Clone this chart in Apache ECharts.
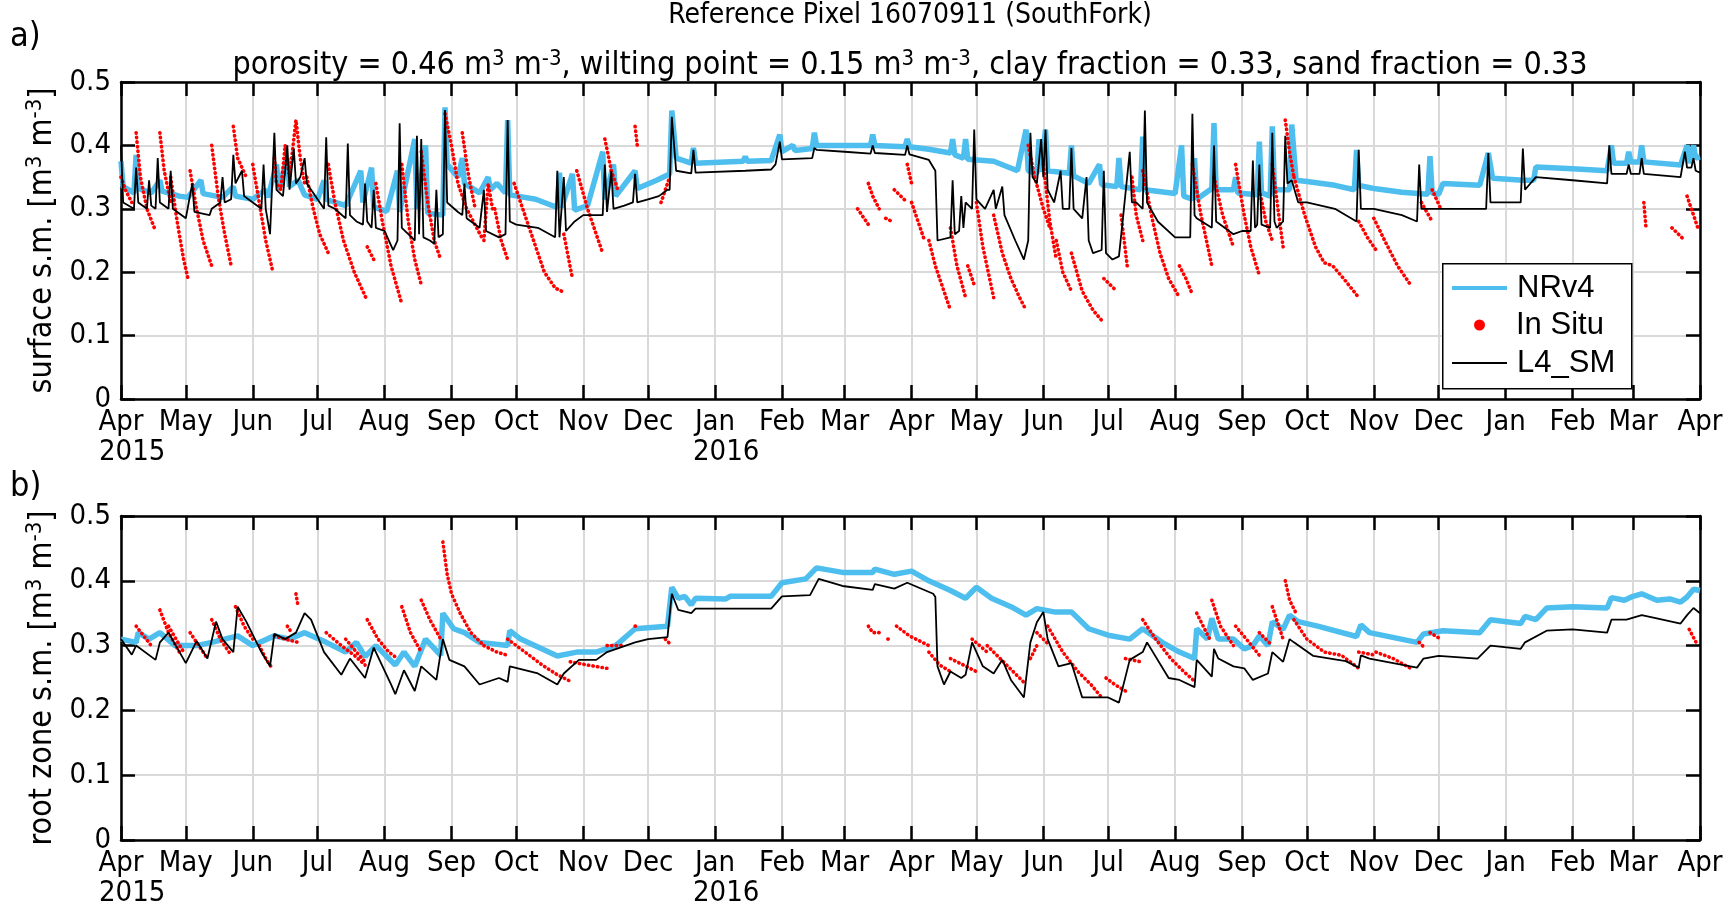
<!DOCTYPE html>
<html>
<head>
<meta charset="utf-8">
<script src="https://cdn.jsdelivr.net/npm/echarts@6/dist/echarts.min.js"></script>
<style>html,body{margin:0;padding:0;background:#fff}#c{width:1730px;height:914px}</style>
</head>
<body>
<div id="c"></div>
<script>
// ---------------- DATA ----------------
const tickDates = ['2015-04-01','2015-05-01','2015-06-01','2015-07-01','2015-08-01','2015-09-01','2015-10-01','2015-11-01','2015-12-01','2016-01-01','2016-02-01','2016-03-01','2016-04-01','2016-05-01','2016-06-01','2016-07-01','2016-08-01','2016-09-01','2016-10-01','2016-11-01','2016-12-01','2017-01-01','2017-02-01','2017-03-01','2017-04-01'];
const tickMonths = ['Apr','May','Jun','Jul','Aug','Sep','Oct','Nov','Dec','Jan','Feb','Mar','Apr','May','Jun','Jul','Aug','Sep','Oct','Nov','Dec','Jan','Feb','Mar','Apr'];
const tickYears = ['2015','','','','','','','','','2016','','','','','','','','','','','','','','',''];
const yTicks = [0, 0.1, 0.2, 0.3, 0.4, 0.5];

const surfNR = [['2015-04-01',0.375],['2015-04-02',0.335],['2015-04-07',0.325],['2015-04-08',0.385],['2015-04-09',0.332],['2015-04-15',0.325],['2015-04-19',0.345],['2015-04-20',0.328],['2015-04-28',0.32],['2015-05-02',0.318],['2015-05-08',0.345],['2015-05-09',0.324],['2015-05-18',0.318],['2015-05-23',0.335],['2015-05-24',0.32],['2015-06-01',0.315],['2015-06-07',0.33],['2015-06-08',0.318],['2015-06-12',0.37],['2015-06-13',0.33],['2015-06-17',0.38],['2015-06-18',0.335],['2015-06-22',0.345],['2015-06-25',0.322],['2015-07-01',0.315],['2015-07-04',0.345],['2015-07-05',0.315],['2015-07-14',0.305],['2015-07-21',0.36],['2015-07-22',0.31],['2015-07-26',0.365],['2015-07-27',0.303],['2015-08-02',0.296],['2015-08-07',0.36],['2015-08-08',0.295],['2015-08-15',0.41],['2015-08-16',0.30],['2015-08-20',0.40],['2015-08-21',0.293],['2015-08-28',0.29],['2015-08-29',0.46],['2015-08-30',0.37],['2015-09-04',0.35],['2015-09-06',0.38],['2015-09-07',0.34],['2015-09-14',0.325],['2015-09-18',0.35],['2015-09-19',0.33],['2015-09-22',0.34],['2015-09-26',0.325],['2015-09-27',0.44],['2015-09-28',0.322],['2015-10-10',0.315],['2015-10-20',0.302],['2015-10-21',0.357],['2015-10-22',0.302],['2015-10-27',0.355],['2015-10-28',0.298],['2015-11-03',0.305],['2015-11-10',0.39],['2015-11-11',0.315],['2015-11-15',0.37],['2015-11-16',0.32],['2015-11-25',0.36],['2015-11-26',0.332],['2015-12-05',0.345],['2015-12-11',0.355],['2015-12-12',0.455],['2015-12-14',0.38],['2015-12-21',0.372],['2015-12-22',0.396],['2015-12-23',0.372],['2016-01-14',0.375],['2016-01-15',0.382],['2016-01-16',0.375],['2016-01-27',0.376],['2016-01-31',0.417],['2016-02-01',0.39],['2016-02-06',0.40],['2016-02-07',0.392],['2016-02-15',0.395],['2016-02-16',0.42],['2016-02-17',0.40],['2016-03-13',0.40],['2016-03-14',0.417],['2016-03-15',0.40],['2016-03-29',0.398],['2016-03-30',0.41],['2016-03-31',0.398],['2016-04-09',0.394],['2016-04-19',0.388],['2016-04-20',0.41],['2016-04-21',0.385],['2016-04-25',0.38],['2016-04-26',0.41],['2016-04-27',0.378],['2016-05-09',0.375],['2016-05-20',0.36],['2016-05-24',0.425],['2016-05-25',0.36],['2016-05-29',0.356],['2016-05-30',0.41],['2016-05-31',0.358],['2016-06-02',0.425],['2016-06-03',0.36],['2016-06-13',0.356],['2016-06-14',0.40],['2016-06-15',0.352],['2016-06-22',0.34],['2016-06-27',0.37],['2016-06-28',0.338],['2016-07-05',0.335],['2016-07-06',0.38],['2016-07-07',0.335],['2016-07-16',0.33],['2016-07-17',0.414],['2016-07-18',0.33],['2016-08-01',0.324],['2016-08-04',0.40],['2016-08-05',0.32],['2016-08-09',0.315],['2016-08-10',0.38],['2016-08-11',0.315],['2016-08-18',0.332],['2016-08-19',0.435],['2016-08-20',0.33],['2016-08-28',0.33],['2016-08-29',0.35],['2016-08-30',0.325],['2016-09-08',0.322],['2016-09-09',0.406],['2016-09-10',0.325],['2016-09-14',0.32],['2016-09-15',0.43],['2016-09-16',0.33],['2016-09-23',0.33],['2016-09-24',0.433],['2016-09-26',0.345],['2016-10-01',0.343],['2016-10-14',0.337],['2016-10-23',0.33],['2016-10-24',0.393],['2016-10-25',0.337],['2016-11-01',0.332],['2016-11-14',0.326],['2016-11-26',0.323],['2016-11-27',0.383],['2016-11-28',0.325],['2016-12-01',0.323],['2016-12-03',0.34],['2016-12-20',0.337],['2016-12-24',0.388],['2016-12-26',0.348],['2017-01-09',0.345],['2017-01-14',0.345],['2017-01-15',0.366],['2017-02-01',0.363],['2017-02-17',0.36],['2017-02-19',0.40],['2017-02-20',0.372],['2017-02-26',0.372],['2017-02-27',0.39],['2017-02-28',0.374],['2017-03-04',0.374],['2017-03-05',0.40],['2017-03-06',0.374],['2017-03-23',0.369],['2017-03-26',0.40],['2017-03-27',0.372],['2017-03-29',0.40],['2017-03-30',0.38],['2017-04-01',0.382]];

const surfL4 = [['2015-04-01',0.40],['2015-04-02',0.31],['2015-04-07',0.30],['2015-04-08',0.365],['2015-04-09',0.31],['2015-04-13',0.30],['2015-04-14',0.345],['2015-04-15',0.305],['2015-04-17',0.30],['2015-04-18',0.38],['2015-04-19',0.31],['2015-04-23',0.30],['2015-04-24',0.36],['2015-04-25',0.30],['2015-05-01',0.285],['2015-05-04',0.34],['2015-05-05',0.295],['2015-05-12',0.29],['2015-05-13',0.30],['2015-05-17',0.31],['2015-05-18',0.35],['2015-05-19',0.31],['2015-05-22',0.315],['2015-05-23',0.385],['2015-05-24',0.34],['2015-05-27',0.36],['2015-05-28',0.32],['2015-06-01',0.31],['2015-06-05',0.30],['2015-06-06',0.37],['2015-06-07',0.30],['2015-06-09',0.26],['2015-06-11',0.42],['2015-06-12',0.33],['2015-06-15',0.32],['2015-06-17',0.40],['2015-06-18',0.33],['2015-06-20',0.395],['2015-06-21',0.34],['2015-06-23',0.35],['2015-06-25',0.38],['2015-06-26',0.34],['2015-06-28',0.33],['2015-07-04',0.30],['2015-07-05',0.413],['2015-07-06',0.305],['2015-07-09',0.30],['2015-07-14',0.285],['2015-07-15',0.403],['2015-07-16',0.29],['2015-07-19',0.28],['2015-07-22',0.275],['2015-07-23',0.34],['2015-07-24',0.28],['2015-07-26',0.27],['2015-07-27',0.33],['2015-07-28',0.27],['2015-08-01',0.265],['2015-08-05',0.235],['2015-08-07',0.25],['2015-08-08',0.435],['2015-08-09',0.27],['2015-08-12',0.26],['2015-08-15',0.25],['2015-08-16',0.415],['2015-08-17',0.26],['2015-08-18',0.41],['2015-08-19',0.255],['2015-08-22',0.25],['2015-08-24',0.245],['2015-08-25',0.33],['2015-08-26',0.255],['2015-08-28',0.26],['2015-08-29',0.456],['2015-08-30',0.31],['2015-09-04',0.295],['2015-09-06',0.29],['2015-09-07',0.34],['2015-09-08',0.285],['2015-09-14',0.27],['2015-09-16',0.33],['2015-09-17',0.265],['2015-09-23',0.255],['2015-09-26',0.26],['2015-09-27',0.44],['2015-09-28',0.28],['2015-10-01',0.275],['2015-10-11',0.27],['2015-10-19',0.255],['2015-10-20',0.36],['2015-10-21',0.255],['2015-10-23',0.35],['2015-10-24',0.265],['2015-10-28',0.28],['2015-11-01',0.29],['2015-11-10',0.29],['2015-11-11',0.37],['2015-11-12',0.295],['2015-11-14',0.36],['2015-11-15',0.30],['2015-11-20',0.305],['2015-11-24',0.31],['2015-11-25',0.355],['2015-11-26',0.31],['2015-12-01',0.315],['2015-12-06',0.32],['2015-12-10',0.33],['2015-12-11',0.33],['2015-12-12',0.445],['2015-12-14',0.36],['2015-12-21',0.356],['2015-12-22',0.393],['2015-12-23',0.357],['2016-01-15',0.36],['2016-01-27',0.362],['2016-01-29',0.37],['2016-01-31',0.406],['2016-02-01',0.378],['2016-02-15',0.38],['2016-02-16',0.396],['2016-02-17',0.393],['2016-03-01',0.39],['2016-03-13',0.387],['2016-03-14',0.40],['2016-03-15',0.388],['2016-03-29',0.385],['2016-03-30',0.40],['2016-03-31',0.386],['2016-04-09',0.377],['2016-04-12',0.36],['2016-04-13',0.25],['2016-04-19',0.255],['2016-04-20',0.345],['2016-04-21',0.26],['2016-04-23',0.265],['2016-04-24',0.32],['2016-04-25',0.27],['2016-04-26',0.31],['2016-04-29',0.30],['2016-04-30',0.425],['2016-05-01',0.315],['2016-05-05',0.30],['2016-05-09',0.33],['2016-05-10',0.30],['2016-05-13',0.335],['2016-05-14',0.29],['2016-05-19',0.25],['2016-05-23',0.22],['2016-05-25',0.25],['2016-05-26',0.42],['2016-05-27',0.35],['2016-05-29',0.34],['2016-05-31',0.41],['2016-06-01',0.35],['2016-06-02',0.425],['2016-06-03',0.33],['2016-06-06',0.31],['2016-06-09',0.36],['2016-06-10',0.30],['2016-06-13',0.30],['2016-06-14',0.396],['2016-06-15',0.30],['2016-06-19',0.285],['2016-06-21',0.35],['2016-06-22',0.25],['2016-06-24',0.23],['2016-06-28',0.235],['2016-06-29',0.36],['2016-06-30',0.23],['2016-07-03',0.22],['2016-07-06',0.225],['2016-07-08',0.29],['2016-07-11',0.39],['2016-07-12',0.31],['2016-07-14',0.31],['2016-07-17',0.30],['2016-07-18',0.455],['2016-07-19',0.31],['2016-07-24',0.28],['2016-08-01',0.255],['2016-08-08',0.255],['2016-08-09',0.45],['2016-08-10',0.29],['2016-08-11',0.285],['2016-08-18',0.27],['2016-08-19',0.40],['2016-08-20',0.28],['2016-08-28',0.26],['2016-09-01',0.265],['2016-09-05',0.265],['2016-09-06',0.376],['2016-09-07',0.27],['2016-09-08',0.275],['2016-09-09',0.37],['2016-09-10',0.275],['2016-09-14',0.27],['2016-09-15',0.42],['2016-09-16',0.28],['2016-09-17',0.27],['2016-09-20',0.28],['2016-09-21',0.415],['2016-09-22',0.34],['2016-09-24',0.345],['2016-09-27',0.31],['2016-10-01',0.31],['2016-10-14',0.30],['2016-10-24',0.28],['2016-10-25',0.393],['2016-10-26',0.30],['2016-11-01',0.30],['2016-11-14',0.29],['2016-11-21',0.28],['2016-11-22',0.37],['2016-11-23',0.30],['2016-12-01',0.30],['2016-12-20',0.30],['2016-12-23',0.30],['2016-12-24',0.388],['2016-12-25',0.31],['2017-01-08',0.31],['2017-01-09',0.395],['2017-01-10',0.33],['2017-01-15',0.35],['2017-02-01',0.345],['2017-02-17',0.34],['2017-02-18',0.40],['2017-02-19',0.355],['2017-02-26',0.355],['2017-02-27',0.37],['2017-02-28',0.355],['2017-03-04',0.355],['2017-03-05',0.38],['2017-03-06',0.355],['2017-03-23',0.35],['2017-03-25',0.39],['2017-03-26',0.365],['2017-03-28',0.365],['2017-03-29',0.38],['2017-03-30',0.36],['2017-04-01',0.357]];

const surfInSitu = [
[['2015-04-01',0.35],['2015-04-03',0.33],['2015-04-06',0.31]],
[['2015-04-08',0.42],['2015-04-10',0.35],['2015-04-13',0.30],['2015-04-17',0.265]],
[['2015-04-19',0.42],['2015-04-21',0.36],['2015-04-24',0.31]],
[['2015-04-24',0.35],['2015-04-27',0.28],['2015-04-30',0.22],['2015-05-02',0.19]],
[['2015-05-03',0.36],['2015-05-06',0.30],['2015-05-09',0.25],['2015-05-13',0.21]],
[['2015-05-13',0.40],['2015-05-16',0.32],['2015-05-19',0.26],['2015-05-22',0.21]],
[['2015-05-23',0.43],['2015-05-25',0.38],['2015-05-29',0.35]],
[['2015-06-01',0.37],['2015-06-04',0.31],['2015-06-07',0.25],['2015-06-10',0.205]],
[['2015-06-11',0.38],['2015-06-12',0.34],['2015-06-14',0.33],['2015-06-16',0.40],['2015-06-18',0.35],['2015-06-20',0.41],['2015-06-21',0.44],['2015-06-23',0.38],['2015-06-25',0.34]],
[['2015-06-26',0.35],['2015-06-29',0.30],['2015-07-02',0.26],['2015-07-06',0.23]],
[['2015-07-06',0.37],['2015-07-09',0.31],['2015-07-13',0.25],['2015-07-18',0.20],['2015-07-24',0.155]],
[['2015-07-24',0.24],['2015-07-27',0.22]],
[['2015-07-28',0.34],['2015-07-31',0.28],['2015-08-04',0.21],['2015-08-09',0.15]],
[['2015-08-09',0.37],['2015-08-12',0.28],['2015-08-15',0.22],['2015-08-18',0.18]],
[['2015-08-18',0.39],['2015-08-21',0.31],['2015-08-24',0.25],['2015-08-27',0.22]],
[['2015-08-29',0.45],['2015-09-01',0.40],['2015-09-04',0.34],['2015-09-08',0.30],['2015-09-15',0.255]],
[['2015-09-06',0.42],['2015-09-09',0.35],['2015-09-12',0.30]],
[['2015-09-16',0.25],['2015-09-18',0.34],['2015-09-20',0.30]],
[['2015-09-21',0.30],['2015-09-24',0.25],['2015-09-27',0.22]],
[['2015-09-30',0.34],['2015-10-04',0.30],['2015-10-09',0.25],['2015-10-14',0.20],['2015-10-19',0.175],['2015-10-22',0.17]],
[['2015-10-23',0.26],['2015-10-27',0.19]],
[['2015-10-29',0.36],['2015-11-03',0.30],['2015-11-10',0.23]],
[['2015-11-11',0.41],['2015-11-14',0.36],['2015-11-17',0.33]],
[['2015-11-25',0.43],['2015-11-26',0.40]],
[['2015-12-07',0.31],['2015-12-09',0.33],['2015-12-11',0.35]],
[['2016-03-07',0.30],['2016-03-10',0.285],['2016-03-12',0.275]],
[['2016-03-12',0.34],['2016-03-14',0.32],['2016-03-17',0.30]],
[['2016-03-20',0.285],['2016-03-23',0.28]],
[['2016-03-24',0.33],['2016-03-27',0.32],['2016-03-30',0.31]],
[['2016-03-30',0.37],['2016-04-01',0.34]],
[['2016-04-01',0.31],['2016-04-04',0.28],['2016-04-07',0.25]],
[['2016-04-09',0.25],['2016-04-12',0.21],['2016-04-15',0.18],['2016-04-19',0.14]],
[['2016-04-19',0.27],['2016-04-22',0.21],['2016-04-26',0.16]],
[['2016-04-27',0.21],['2016-04-30',0.18]],
[['2016-05-01',0.31],['2016-05-04',0.24],['2016-05-09',0.16]],
[['2016-05-09',0.29],['2016-05-13',0.23],['2016-05-17',0.19],['2016-05-21',0.16],['2016-05-24',0.14]],
[['2016-05-25',0.40],['2016-05-28',0.35],['2016-06-01',0.30],['2016-06-04',0.27]],
[['2016-06-01',0.37],['2016-06-04',0.28],['2016-06-07',0.22]],
[['2016-06-07',0.25],['2016-06-10',0.20],['2016-06-14',0.17]],
[['2016-06-14',0.23],['2016-06-19',0.17],['2016-06-24',0.14],['2016-06-29',0.12]],
[['2016-06-29',0.19],['2016-07-02',0.18],['2016-07-05',0.17]],
[['2016-07-07',0.29],['2016-07-10',0.205]],
[['2016-07-12',0.35],['2016-07-14',0.29],['2016-07-17',0.25]],
[['2016-07-17',0.36],['2016-07-21',0.29],['2016-07-25',0.23],['2016-07-29',0.19],['2016-08-03',0.16]],
[['2016-08-03',0.21],['2016-08-06',0.19],['2016-08-09',0.165]],
[['2016-08-09',0.37],['2016-08-13',0.29],['2016-08-18',0.21]],
[['2016-08-19',0.35],['2016-08-23',0.29],['2016-08-28',0.24]],
[['2016-08-29',0.37],['2016-09-02',0.29],['2016-09-05',0.24],['2016-09-09',0.195]],
[['2016-09-09',0.33],['2016-09-12',0.28],['2016-09-15',0.25]],
[['2016-09-15',0.37],['2016-09-18',0.29],['2016-09-20',0.24]],
[['2016-09-21',0.44],['2016-09-23',0.39],['2016-09-25',0.35]],
[['2016-09-25',0.35],['2016-09-30',0.29],['2016-10-05',0.24],['2016-10-09',0.215],['2016-10-13',0.21],['2016-10-18',0.19],['2016-10-25',0.16]],
[['2016-10-25',0.28],['2016-10-29',0.255],['2016-11-02',0.235]],
[['2016-11-01',0.285],['2016-11-06',0.25],['2016-11-12',0.21],['2016-11-18',0.18]],
[['2016-11-23',0.31],['2016-11-28',0.28]],
[['2016-11-28',0.33],['2016-12-02',0.30]],
[['2017-03-06',0.31],['2017-03-07',0.27]],
[['2017-03-19',0.27],['2017-03-25',0.25]],
[['2017-03-26',0.32],['2017-03-31',0.27]]
];

const rootNR = [['2015-04-01',0.31],['2015-04-08',0.305],['2015-04-09',0.32],['2015-04-14',0.31],['2015-04-19',0.32],['2015-04-26',0.30],['2015-05-06',0.30],['2015-05-13',0.305],['2015-05-25',0.315],['2015-06-01',0.30],['2015-06-11',0.315],['2015-06-18',0.31],['2015-06-25',0.32],['2015-07-05',0.305],['2015-07-14',0.29],['2015-07-19',0.305],['2015-07-23',0.283],['2015-07-28',0.30],['2015-08-06',0.27],['2015-08-10',0.29],['2015-08-15',0.268],['2015-08-20',0.31],['2015-08-27',0.285],['2015-08-28',0.35],['2015-09-02',0.326],['2015-09-07',0.32],['2015-09-14',0.305],['2015-09-27',0.30],['2015-09-28',0.323],['2015-10-03',0.31],['2015-10-20',0.284],['2015-10-29',0.29],['2015-11-07',0.29],['2015-11-16',0.30],['2015-11-25',0.326],['2015-12-10',0.33],['2015-12-12',0.39],['2015-12-15',0.373],['2015-12-18',0.376],['2015-12-21',0.363],['2015-12-23',0.373],['2016-01-06',0.372],['2016-01-08',0.376],['2016-01-27',0.376],['2016-02-01',0.397],['2016-02-12',0.403],['2016-02-17',0.42],['2016-02-29',0.413],['2016-03-14',0.413],['2016-03-15',0.418],['2016-03-24',0.41],['2016-04-01',0.415],['2016-04-09',0.40],['2016-04-19',0.385],['2016-04-26',0.373],['2016-05-01',0.39],['2016-05-08',0.373],['2016-05-17',0.36],['2016-05-24',0.347],['2016-05-29',0.357],['2016-06-06',0.352],['2016-06-14',0.352],['2016-06-22',0.326],['2016-07-01',0.316],['2016-07-11',0.31],['2016-07-17',0.326],['2016-07-26',0.305],['2016-08-03',0.29],['2016-08-10',0.28],['2016-08-11',0.326],['2016-08-16',0.31],['2016-08-18',0.342],['2016-08-21',0.31],['2016-08-28',0.31],['2016-09-02',0.295],['2016-09-06',0.30],['2016-09-09',0.315],['2016-09-13',0.30],['2016-09-15',0.337],['2016-09-20',0.325],['2016-09-23',0.347],['2016-09-27',0.337],['2016-10-06',0.33],['2016-10-24',0.314],['2016-10-26',0.332],['2016-10-30',0.32],['2016-11-21',0.305],['2016-11-24',0.318],['2016-12-03',0.323],['2016-12-20',0.32],['2016-12-25',0.34],['2017-01-08',0.334],['2017-01-10',0.345],['2017-01-15',0.34],['2017-01-20',0.358],['2017-02-01',0.36],['2017-02-17',0.358],['2017-02-19',0.374],['2017-02-25',0.37],['2017-03-01',0.376],['2017-03-05',0.38],['2017-03-12',0.37],['2017-03-18',0.372],['2017-03-23',0.367],['2017-03-26',0.375],['2017-03-29',0.387],['2017-04-01',0.385]];

const rootL4 = [['2015-04-01',0.31],['2015-04-06',0.286],['2015-04-08',0.30],['2015-04-17',0.278],['2015-04-19',0.305],['2015-04-23',0.32],['2015-05-01',0.273],['2015-05-06',0.307],['2015-05-11',0.28],['2015-05-15',0.337],['2015-05-18',0.31],['2015-05-23',0.29],['2015-05-25',0.36],['2015-05-29',0.337],['2015-06-05',0.29],['2015-06-09',0.268],['2015-06-11',0.318],['2015-06-16',0.31],['2015-06-21',0.32],['2015-06-25',0.35],['2015-06-28',0.34],['2015-07-04',0.29],['2015-07-12',0.255],['2015-07-16',0.28],['2015-07-23',0.25],['2015-07-27',0.297],['2015-08-04',0.24],['2015-08-06',0.225],['2015-08-10',0.262],['2015-08-15',0.23],['2015-08-18',0.268],['2015-08-25',0.247],['2015-08-28',0.31],['2015-08-31',0.278],['2015-09-07',0.268],['2015-09-14',0.24],['2015-09-23',0.25],['2015-09-27',0.244],['2015-09-28',0.268],['2015-10-11',0.257],['2015-10-20',0.24],['2015-10-23',0.257],['2015-10-30',0.278],['2015-11-07',0.278],['2015-11-12',0.29],['2015-11-25',0.305],['2015-12-01',0.31],['2015-12-10',0.313],['2015-12-12',0.38],['2015-12-15',0.355],['2015-12-21',0.35],['2015-12-23',0.357],['2016-01-27',0.357],['2016-02-01',0.376],['2016-02-14',0.378],['2016-02-18',0.403],['2016-02-29',0.392],['2016-03-14',0.386],['2016-03-15',0.395],['2016-03-24',0.388],['2016-03-30',0.397],['2016-04-11',0.38],['2016-04-12',0.375],['2016-04-13',0.268],['2016-04-16',0.24],['2016-04-19',0.26],['2016-04-24',0.25],['2016-04-26',0.255],['2016-04-29',0.305],['2016-05-04',0.268],['2016-05-09',0.257],['2016-05-13',0.278],['2016-05-17',0.247],['2016-05-23',0.22],['2016-05-26',0.305],['2016-05-29',0.336],['2016-06-01',0.352],['2016-06-03',0.31],['2016-06-08',0.268],['2016-06-14',0.273],['2016-06-19',0.22],['2016-07-01',0.22],['2016-07-06',0.212],['2016-07-11',0.278],['2016-07-17',0.29],['2016-07-19',0.305],['2016-07-29',0.25],['2016-08-03',0.247],['2016-08-10',0.236],['2016-08-11',0.278],['2016-08-18',0.252],['2016-08-19',0.295],['2016-08-21',0.28],['2016-08-28',0.268],['2016-09-02',0.265],['2016-09-06',0.247],['2016-09-13',0.257],['2016-09-15',0.29],['2016-09-20',0.275],['2016-09-23',0.31],['2016-09-25',0.305],['2016-10-04',0.284],['2016-10-19',0.276],['2016-10-25',0.266],['2016-10-26',0.285],['2016-10-30',0.28],['2016-11-21',0.266],['2016-11-24',0.28],['2016-12-01',0.284],['2016-12-19',0.28],['2016-12-25',0.30],['2017-01-08',0.295],['2017-01-10',0.305],['2017-01-20',0.323],['2017-02-01',0.325],['2017-02-17',0.32],['2017-02-19',0.34],['2017-02-26',0.34],['2017-03-05',0.347],['2017-03-12',0.342],['2017-03-23',0.334],['2017-03-26',0.347],['2017-03-29',0.358],['2017-04-01',0.35]];

const rootInSitu = [
[['2015-04-08',0.33],['2015-04-15',0.30]],
[['2015-04-19',0.355],['2015-04-23',0.32],['2015-04-28',0.29]],
[['2015-04-23',0.33],['2015-04-30',0.29]],
[['2015-05-03',0.32],['2015-05-07',0.30],['2015-05-11',0.28]],
[['2015-05-13',0.34],['2015-05-17',0.31],['2015-05-22',0.285]],
[['2015-05-24',0.36],['2015-05-28',0.33],['2015-06-01',0.31]],
[['2015-06-04',0.30],['2015-06-07',0.28],['2015-06-10',0.265]],
[['2015-06-11',0.315],['2015-06-16',0.31],['2015-06-22',0.305]],
[['2015-06-17',0.33],['2015-06-19',0.32]],
[['2015-06-21',0.38],['2015-06-22',0.36]],
[['2015-07-05',0.32],['2015-07-12',0.30],['2015-07-18',0.285],['2015-07-23',0.27]],
[['2015-07-14',0.31],['2015-07-19',0.29],['2015-07-23',0.275]],
[['2015-07-24',0.34],['2015-07-29',0.31],['2015-08-03',0.29],['2015-08-07',0.28]],
[['2015-08-09',0.36],['2015-08-13',0.32],['2015-08-18',0.29]],
[['2015-08-18',0.37],['2015-08-22',0.34],['2015-08-27',0.31]],
[['2015-08-28',0.46],['2015-08-30',0.41],['2015-09-01',0.38],['2015-09-05',0.35],['2015-09-10',0.32],['2015-09-16',0.30]],
[['2015-09-16',0.30],['2015-09-22',0.29],['2015-09-27',0.285]],
[['2015-09-27',0.31],['2015-10-05',0.29],['2015-10-13',0.27],['2015-10-20',0.255],['2015-10-26',0.245]],
[['2015-10-26',0.275],['2015-11-03',0.27],['2015-11-12',0.265]],
[['2015-11-12',0.30],['2015-11-19',0.30]],
[['2015-11-25',0.33],['2015-11-26',0.33]],
[['2015-12-09',0.31],['2015-12-12',0.30]],
[['2016-03-12',0.33],['2016-03-14',0.32],['2016-03-17',0.32]],
[['2016-03-21',0.31],['2016-03-22',0.31]],
[['2016-03-25',0.33],['2016-03-31',0.315],['2016-04-09',0.30]],
[['2016-04-09',0.29],['2016-04-14',0.27],['2016-04-19',0.26]],
[['2016-04-19',0.28],['2016-04-25',0.27],['2016-05-01',0.26]],
[['2016-04-29',0.31],['2016-05-06',0.29]],
[['2016-05-06',0.30],['2016-05-12',0.28],['2016-05-18',0.26],['2016-05-24',0.24]],
[['2016-05-26',0.28],['2016-05-29',0.30]],
[['2016-05-29',0.32],['2016-06-04',0.30]],
[['2016-06-03',0.33],['2016-06-10',0.29],['2016-06-17',0.26],['2016-06-23',0.24],['2016-06-28',0.22]],
[['2016-06-30',0.25],['2016-07-04',0.24],['2016-07-09',0.23]],
[['2016-07-09',0.28],['2016-07-16',0.275]],
[['2016-07-17',0.34],['2016-07-23',0.31],['2016-07-30',0.28],['2016-08-05',0.26],['2016-08-10',0.245]],
[['2016-08-11',0.35],['2016-08-14',0.33],['2016-08-17',0.31]],
[['2016-08-18',0.37],['2016-08-22',0.33],['2016-08-28',0.30]],
[['2016-08-29',0.33],['2016-09-03',0.31],['2016-09-09',0.285]],
[['2016-09-09',0.32],['2016-09-15',0.30]],
[['2016-09-15',0.36],['2016-09-18',0.33],['2016-09-20',0.31]],
[['2016-09-21',0.40],['2016-09-23',0.37],['2016-09-26',0.35]],
[['2016-09-25',0.34],['2016-10-01',0.31],['2016-10-09',0.29],['2016-10-17',0.285],['2016-10-25',0.265]],
[['2016-10-25',0.29],['2016-11-02',0.285]],
[['2016-11-02',0.29],['2016-11-10',0.28],['2016-11-18',0.265]],
[['2016-11-22',0.305],['2016-11-25',0.295]],
[['2016-11-27',0.32],['2016-12-02',0.31]],
[['2017-03-27',0.325],['2017-03-31',0.30]]
];

// ---------------- CHART ----------------
const FONT = "'Liberation Sans Narrow','DejaVu Sans Condensed','Arial Narrow',sans-serif";
const LFONT = "'Liberation Sans',Arial,sans-serif";
const BLUE = '#4DBEEE', RED = '#FF0000', BLACK = '#000000';
const toT = d => +echarts.time.parse(d);
const tickTimes = tickDates.map(toT);
const yearTimes = tickTimes.filter((t, i) => tickYears[i] !== '');
const tMin = tickTimes[0], tMax = tickTimes[tickTimes.length - 1];

function lineData(arr) { return arr.map(p => [toT(p[0]), p[1]]); }
function streaksToData(streaks) {
  const out = [];
  streaks.forEach((s, i) => {
    if (i > 0) out.push([toT(s[0][0]), '-']);
    s.forEach(p => out.push([toT(p[0]), p[1]]));
  });
  return out;
}

function supRich(size) {
  const ss = Math.round(size * 0.68);
  return {
    t: {fontFamily: FONT, fontSize: size, fontWeight: 'normal', color: '#000', lineHeight: size + 4},
    s: {fontFamily: FONT, fontSize: ss, fontWeight: 'normal', color: '#000', lineHeight: ss, verticalAlign: 'top'}
  };
}

const AX = {color: '#000', width: 2.5};
const GRID = {color: '#d9d9d9', width: 2};

function xBottom(g) {
  return {
    type: 'value', gridIndex: g, position: 'bottom', min: tMin, max: tMax,
    axisLine: {show: true, onZero: false, lineStyle: AX},
    axisTick: {show: true, inside: true, length: 14, customValues: tickTimes, lineStyle: AX},
    axisLabel: {
      show: true, customValues: tickTimes, margin: 9, color: '#000', fontFamily: FONT, fontSize: 29,
      hideOverlap: false, showMinLabel: true, showMaxLabel: true,
      formatter: v => { const i = tickTimes.indexOf(v); return i < 0 ? '' : tickMonths[i]; }
    },
    splitLine: {show: true, lineStyle: GRID}
  };
}
function xYears(g) {
  return {
    type: 'value', gridIndex: g, position: 'bottom', min: tMin, max: tMax,
    axisLine: {show: false, onZero: false}, axisTick: {show: false},
    axisLabel: {
      show: true, customValues: yearTimes, margin: 39, align: 'right', showMinLabel: true, showMaxLabel: true,
      formatter: v => { const i = tickTimes.indexOf(v); return i < 0 ? '' : '{y|' + tickYears[i] + '}'; },
      rich: {y: {fontFamily: FONT, fontSize: 29, color: '#000', width: 22, align: 'left'}}
    },
    splitLine: {show: false}
  };
}
function xTop(g) {
  return {
    type: 'value', gridIndex: g, position: 'top', min: tMin, max: tMax,
    axisLine: {show: true, onZero: false, lineStyle: AX},
    axisTick: {show: true, inside: true, length: 14, customValues: tickTimes, lineStyle: AX},
    axisLabel: {show: false}, splitLine: {show: false}
  };
}
function yLeft(g, nameRich) {
  return {
    type: 'value', gridIndex: g, position: 'left', min: yTicks[0], max: yTicks[yTicks.length - 1], interval: 0.1,
    name: nameRich, nameLocation: 'middle', nameGap: 57, nameRotate: 90,
    nameTextStyle: {rich: supRich(32)},
    axisLine: {show: true, onZero: false, lineStyle: AX},
    axisTick: {show: true, inside: true, length: 14, lineStyle: AX},
    axisLabel: {show: true, margin: 10, color: '#000', fontFamily: FONT, fontSize: 29,
      formatter: v => (Math.abs(v) < 1e-9 ? '0' : (+v.toFixed(1)).toString())},
    splitLine: {show: true, lineStyle: GRID}
  };
}
function yRight(g) {
  return {
    type: 'value', gridIndex: g, position: 'right', min: yTicks[0], max: yTicks[yTicks.length - 1], interval: 0.1,
    axisLine: {show: true, onZero: false, lineStyle: AX},
    axisTick: {show: true, inside: true, length: 14, lineStyle: AX},
    axisLabel: {show: false}, splitLine: {show: false}
  };
}
function seriesFor(xi, yi, nr, insitu, l4) {
  return [
    {name: 'NRv4', type: 'line', xAxisIndex: xi, yAxisIndex: yi, data: lineData(nr), color: BLUE, symbol: 'none', showSymbol: false,
     lineStyle: {color: BLUE, width: 5.5}, z: 2},
    {name: 'In Situ', type: 'line', xAxisIndex: xi, yAxisIndex: yi, data: streaksToData(insitu), color: RED, symbol: 'none', showSymbol: false,
     connectNulls: false, lineStyle: {color: RED, width: 3.6, type: [0.4, 4.2], cap: 'round'}, z: 3},
    {name: 'L4_SM', type: 'line', xAxisIndex: xi, yAxisIndex: yi, data: lineData(l4), color: BLACK, symbol: 'none', showSymbol: false,
     lineStyle: {color: BLACK, width: 1.8}, z: 4}
  ];
}

const chart = echarts.init(document.getElementById('c'), null, {renderer: 'canvas'});
const legendText = {fontFamily: LFONT, fontSize: 31, color: '#000', lineHeight: 34};
chart.setOption({
  animation: false,
  backgroundColor: '#fff',
  title: [
    {text: 'Reference Pixel 16070911 (SouthFork)', left: 910, top: 0, textAlign: 'center', padding: 0,
     textStyle: {fontFamily: FONT, fontSize: 28, fontWeight: 'normal', color: '#000', lineHeight: 32}},
    {text: '{t|porosity = 0.46 m}{s|3}{t| m}{s|-3}{t|, wilting point = 0.15 m}{s|3}{t| m}{s|-3}{t|, clay fraction = 0.33, sand fraction = 0.33}',
     left: 910, top: 48, textAlign: 'center', padding: 0, textStyle: {fontWeight: 'normal', rich: supRich(32)}},
    {text: 'a)', left: 10, top: 20, padding: 0, textStyle: {fontFamily: FONT, fontSize: 34, fontWeight: 'normal', color: '#000'}},
    {text: 'b)', left: 10, top: 470, padding: 0, textStyle: {fontFamily: FONT, fontSize: 34, fontWeight: 'normal', color: '#000'}}
  ],
  grid: [
    {left: 121, top: 82, width: 1579, height: 317},
    {left: 121, top: 516, width: 1579, height: 324}
  ],
  xAxis: [xBottom(0), xTop(0), xBottom(1), xTop(1), xYears(0), xYears(1)],
  yAxis: [
    yLeft(0, '{t|surface s.m. [m}{s|3}{t| m}{s|-3}{t|]}'), yRight(0),
    yLeft(1, '{t|root zone s.m. [m}{s|3}{t| m}{s|-3}{t|]}'), yRight(1)
  ],
  legend: [
    {data: [{name: 'NRv4', icon: 'rect'}], left: 1452, top: 271, padding: 0, itemWidth: 55, itemHeight: 4,
     selectedMode: false, textStyle: Object.assign({padding: [0, 0, 0, 5]}, legendText), z: 20},
    {data: [{name: 'In Situ', icon: 'circle'}], left: 1474, top: 308, padding: 0, itemWidth: 11, itemHeight: 11,
     selectedMode: false, textStyle: Object.assign({padding: [0, 0, 0, 26]}, legendText), z: 20},
    {data: [{name: 'L4_SM', icon: 'rect'}], left: 1452, top: 346, padding: 0, itemWidth: 55, itemHeight: 2,
     selectedMode: false, textStyle: Object.assign({padding: [0, 0, 0, 5]}, legendText), z: 20}
  ],
  graphic: [
    {type: 'rect', left: 1442, top: 263, z: 10, shape: {width: 189, height: 125},
     style: {fill: '#fff', stroke: '#000', lineWidth: 1.5}}
  ],
  series: [].concat(
    seriesFor(0, 0, surfNR, surfInSitu, surfL4),
    seriesFor(2, 2, rootNR, rootInSitu, rootL4)
  )
});
</script>
</body>
</html>
